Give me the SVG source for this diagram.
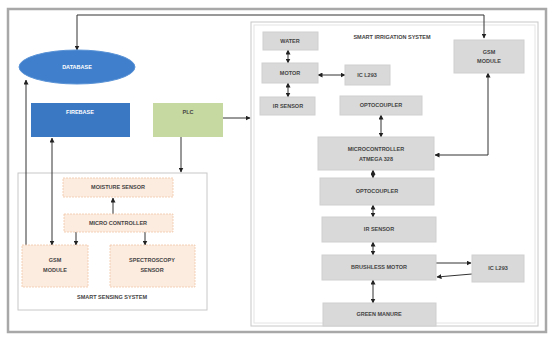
<svg xmlns="http://www.w3.org/2000/svg" width="556" height="337" viewBox="0 0 556 337">
<defs>
<style>
.t{font-family:"Liberation Sans",Arial,sans-serif;font-size:5.5px;fill:#444;text-anchor:middle;font-weight:bold}
.w{fill:#fff}
.g{fill:#d9d9d9;stroke:#cfcfcf;stroke-width:1}
.p{fill:#fcebdf;stroke:#f0c8a8;stroke-width:0.8;stroke-dasharray:2 1}
.c{fill:none;stroke:#333;stroke-width:1}
</style>
<marker id="a" viewBox="0 0 10 10" refX="9" refY="5" markerWidth="5" markerHeight="5" orient="auto-start-reverse">
<path d="M0,0L10,5L0,10z" fill="#222"/>
</marker>
</defs>
<rect width="556" height="337" fill="#fff"/>
<rect x="8" y="9" width="538" height="323" fill="#fff" stroke="#a8a8a8" stroke-width="2.5"/>
<rect x="251" y="22" width="287" height="304" fill="#fff" stroke="#c8c8c8" stroke-width="1"/>
<rect x="254" y="25" width="281" height="298" fill="none" stroke="#e4e4e4" stroke-width="1"/>
<text class="t" x="392" y="39">SMART IRRIGATION SYSTEM</text>

<g id="sensing-system">
<rect x="18" y="173" width="189" height="137" fill="#fff" stroke="#c8c8c8" stroke-width="1"/>
<text class="t" x="112" y="299">SMART SENSING SYSTEM</text>
</g>

<g id="connectors">
<path class="c" d="M77,50V15H484V38" marker-start="url(#a)" marker-end="url(#a)"/>
<path class="c" d="M223,118H250" marker-end="url(#a)"/>
<path class="c" d="M181,137V172" marker-end="url(#a)"/>
<path class="c" d="M26,245V80" marker-end="url(#a)"/>
<path class="c" d="M52,138V245" marker-start="url(#a)" marker-end="url(#a)"/>
<path class="c" d="M113,198V214" marker-start="url(#a)"/>
<path class="c" d="M76,232V245" marker-end="url(#a)"/>
<path class="c" d="M145,232V245" marker-end="url(#a)"/>
<path class="c" d="M288,50V63" marker-start="url(#a)" marker-end="url(#a)"/>
<path class="c" d="M288,83V97" marker-start="url(#a)" marker-end="url(#a)"/>
<path class="c" d="M318,75H345" marker-start="url(#a)" marker-end="url(#a)"/>
<path class="c" d="M381,115V137" marker-start="url(#a)" marker-end="url(#a)"/>
<path class="c" d="M488,73V155H435" marker-start="url(#a)" marker-end="url(#a)"/>
<path class="c" d="M373,170V178" marker-start="url(#a)" marker-end="url(#a)"/>
<path class="c" d="M373,205V217" marker-start="url(#a)" marker-end="url(#a)"/>
<path class="c" d="M373,242V255" marker-start="url(#a)" marker-end="url(#a)"/>
<path class="c" d="M373,280V303" marker-start="url(#a)" marker-end="url(#a)"/>
<path class="c" d="M436,263H471" marker-end="url(#a)"/>
<path class="c" d="M472,274L437,277" marker-end="url(#a)"/>
</g>

<g id="database">
<ellipse cx="77" cy="67" rx="58" ry="17" fill="#3f7fcc" stroke="#5a93d6" stroke-width="1"/>
<text class="t w" x="77" y="69">DATABASE</text>
</g>
<g id="firebase">
<rect x="31" y="103" width="99" height="34" fill="#3b78c4"/>
<text class="t w" x="80" y="114">FIREBASE</text>
</g>
<g id="plc">
<rect x="153" y="103" width="70" height="34" fill="#c6d9a0"/>
<text class="t" x="188" y="114">PLC</text>
</g>

<g id="moisture-sensor">
<rect class="p" x="63" y="178" width="110" height="19"/>
<text class="t" x="118" y="189">MOISTURE SENSOR</text>
</g>
<g id="micro-controller">
<rect class="p" x="64" y="214" width="109" height="18"/>
<text class="t" x="118" y="225">MICRO CONTROLLER</text>
</g>
<g id="gsm-module-sensing">
<rect class="p" x="22" y="245" width="66" height="42"/>
<text class="t" x="55" y="262">GSM</text>
<text class="t" x="55" y="272">MODULE</text>
</g>
<g id="spectroscopy-sensor">
<rect class="p" x="110" y="245" width="85" height="42"/>
<text class="t" x="152" y="262">SPECTROSCOPY</text>
<text class="t" x="152" y="272">SENSOR</text>
</g>

<g id="water">
<rect class="g" x="263" y="32" width="55" height="18"/>
<text class="t" x="290" y="43">WATER</text>
</g>
<g id="motor">
<rect class="g" x="262" y="63" width="56" height="20"/>
<text class="t" x="290" y="75">MOTOR</text>
</g>
<g id="ir-sensor-1">
<rect class="g" x="260" y="97" width="55" height="18"/>
<text class="t" x="288" y="108">IR SENSOR</text>
</g>
<g id="ic-l293-1">
<rect class="g" x="345" y="65" width="45" height="20"/>
<text class="t" x="367" y="77">IC L293</text>
</g>
<g id="optocoupler-1">
<rect class="g" x="340" y="96" width="82" height="19"/>
<text class="t" x="381" y="107">OPTOCOUPLER</text>
</g>
<g id="gsm-module-irrigation">
<rect class="g" x="454" y="40" width="70" height="33"/>
<text class="t" x="489" y="54">GSM</text>
<text class="t" x="489" y="63">MODULE</text>
</g>
<g id="microcontroller-atmega">
<rect class="g" x="318" y="137" width="116" height="33"/>
<text class="t" x="376" y="151">MICROCONTROLLER</text>
<text class="t" x="376" y="161">ATMEGA 328</text>
</g>
<g id="optocoupler-2">
<rect class="g" x="320" y="178" width="114" height="27"/>
<text class="t" x="377" y="193">OPTOCOUPLER</text>
</g>
<g id="ir-sensor-2">
<rect class="g" x="322" y="217" width="114" height="25"/>
<text class="t" x="379" y="231">IR SENSOR</text>
</g>
<g id="brushless-motor">
<rect class="g" x="322" y="255" width="114" height="25"/>
<text class="t" x="379" y="269">BRUSHLESS MOTOR</text>
</g>
<g id="ic-l293-2">
<rect class="g" x="472" y="255" width="52" height="27"/>
<text class="t" x="498" y="270">IC L293</text>
</g>
<g id="green-manure">
<rect class="g" x="323" y="303" width="113" height="23"/>
<text class="t" x="379" y="316">GREEN MANURE</text>
</g>
</svg>
